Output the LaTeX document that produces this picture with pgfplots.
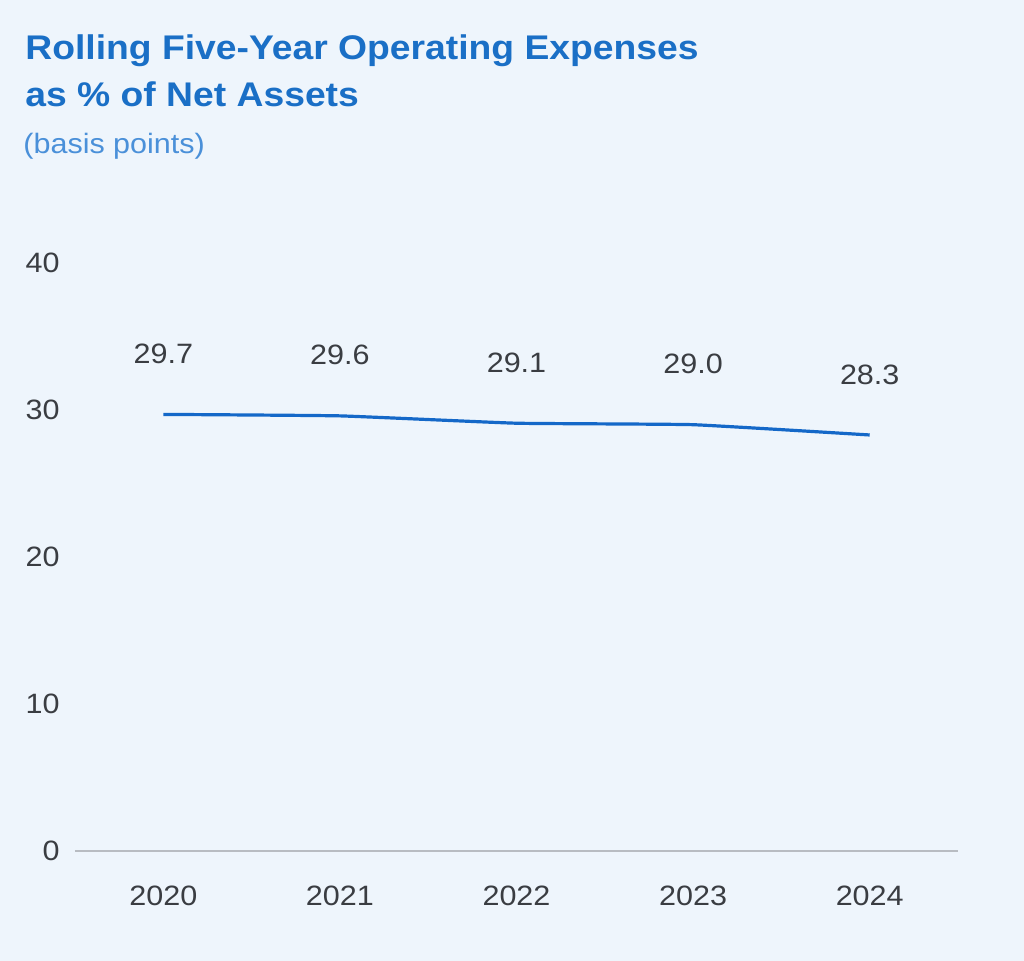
\documentclass[border=0pt]{standalone}
\usepackage{pgfplots}
\pgfplotsset{compat=1.18}
\usepackage{fontspec}
\setmainfont{Liberation Sans}[FakeStretch=1.09]
\usetikzlibrary{backgrounds}
\definecolor{bgc}{HTML}{EEF5FC}
\definecolor{titleblue}{HTML}{1A6FC6}
\definecolor{subblue}{HTML}{4A90D9}
\definecolor{linec}{HTML}{1468C8}
\definecolor{txt}{HTML}{3A3D42}
\definecolor{axisgray}{HTML}{B8BCC2}
\begin{document}
\begin{tikzpicture}
\useasboundingbox (0,0) rectangle (512pt,480.5pt);
\node[anchor=base west, inner sep=0, text=titleblue, font=\fontsize{17.1}{20}\selectfont\bfseries] at (12.5pt,450.5pt) {Rolling Five-Year Operating Expenses};
\node[anchor=base west, inner sep=0, text=titleblue, font=\fontsize{17.1}{20}\selectfont\bfseries] at (12.5pt,427pt) {as \% of Net Assets};
\node[anchor=base west, inner sep=0, text=subblue, font=\fontsize{14}{16}\selectfont] at (11.5pt,403.5pt) {(basis points)};
\begin{axis}[
  at={(37.5pt,55pt)}, anchor=south west,
  scale only axis, width=441.5pt, height=294pt,
  xmin=-0.5, xmax=4.5, ymin=0, ymax=40,
  xtick={0,1,2,3,4}, xticklabels={2020,2021,2022,2023,2024},
  ytick={0,10,20,30,40},
  axis line style={draw=none},
  axis x line*=bottom, axis y line*=left,
  major tick length=0pt,
  tick style={draw=none},
  /pgf/number format/assume math mode=true,
  ticklabel style={font=\fontsize{14}{16}\selectfont, text=txt},
  yticklabel style={anchor=east, inner sep=0pt, xshift=-7.5pt},
  xticklabel style={anchor=north, inner sep=0pt, yshift=-17.5pt},
  clip=false,
]
\draw[axisgray, line width=1pt] (axis cs:-0.5,0) -- (axis cs:4.5,0);
\addplot[linec, line width=1.6pt, smooth, tension=0.2,
  nodes near coords={\pgfmathprintnumber[fixed,fixed zerofill,precision=1]{\pgfplotspointmeta}},
  every node near coord/.append style={anchor=south, inner sep=0pt, yshift=24.5pt, font=\fontsize{14}{16}\selectfont, text=txt},
] coordinates {(0,29.7) (1,29.6) (2,29.1) (3,29.0) (4,28.3)};
\end{axis}
\begin{scope}[on background layer]
\fill[bgc] (0,0) rectangle (512pt,480.5pt);
\end{scope}
\end{tikzpicture}
\end{document}
